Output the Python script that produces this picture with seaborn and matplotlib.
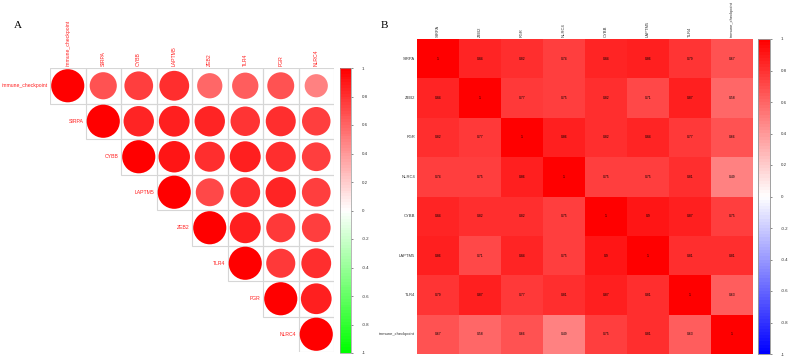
import numpy as np
import pandas as pd
import matplotlib
matplotlib.use("Agg")
import matplotlib.pyplot as plt
import seaborn as sns
from matplotlib.colors import LinearSegmentedColormap, Normalize
from matplotlib.cm import ScalarMappable
from matplotlib.patches import Rectangle

# ===================== data =====================
genes_b = ["SIRPA", "ZEB2", "FGR", "NLRC4", "CYBB", "LAPTM5", "TLR4", "immune_checkpoint"]
r_SIRPA = [1, 0.84, 0.82, 0.74, 0.84, 0.86, 0.79, 0.67]
r_ZEB2 = [0.84, 1, 0.77, 0.75, 0.82, 0.71, 0.87, 0.58]
r_FGR = [0.82, 0.77, 1, 0.86, 0.82, 0.84, 0.77, 0.66]
r_NLRC4 = [0.74, 0.75, 0.86, 1, 0.75, 0.75, 0.81, 0.49]
r_CYBB = [0.84, 0.82, 0.82, 0.75, 1, 0.9, 0.87, 0.75]
r_LAPTM5 = [0.86, 0.71, 0.84, 0.75, 0.9, 1, 0.81, 0.81]
r_TLR4 = [0.79, 0.87, 0.77, 0.81, 0.87, 0.81, 1, 0.63]
r_immune = [0.67, 0.58, 0.66, 0.49, 0.75, 0.81, 0.63, 1]
# panel A order (clustered)
genes_a = ["immune_checkpoint", "SIRPA", "CYBB", "LAPTM5", "ZEB2", "TLR4", "FGR", "NLRC4"]
cbar_ticks = [-1, -0.8, -0.6, -0.4, -0.2, 0, 0.2, 0.4, 0.6, 0.8, 1]

corr = pd.DataFrame([r_SIRPA, r_ZEB2, r_FGR, r_NLRC4, r_CYBB, r_LAPTM5, r_TLR4, r_immune],
                    index=genes_b, columns=genes_b)
corr_a = corr.loc[genes_a, genes_a]

W, H = 789, 357
fig = plt.figure(figsize=(W / 100, H / 100), dpi=100)
plt.rcParams["font.family"] = ["Liberation Sans", "DejaVu Sans"]


def px_axes(x0, y0, x1, y1):
    # pixel box (top-left origin) -> figure axes
    return fig.add_axes([x0 / W, 1 - y1 / H, (x1 - x0) / W, (y1 - y0) / H])


def tick_label(v):
    return "0" if v == 0 else f"{v:g}"


# ===================== A: corrplot circles =====================
cmap_a = LinearSegmentedColormap.from_list("gwr", ["#00FF00", "#FFFFFF", "#FF0000"], N=100)
axA = px_axes(50, 68, 334, 352)
n = len(genes_a)
rows = []
for i in range(n):
    for j in range(i, n):
        rows.append({"row": i, "col": j, "r": corr_a.iloc[i, j], "absr": abs(corr_a.iloc[i, j])})
        axA.add_patch(Rectangle((j - 0.5, i - 0.5), 1, 1, fill=False, ec="#d6d6d6", lw=0.8))
long_a = pd.DataFrame(rows)
sns.scatterplot(data=long_a, x="col", y="row", hue="r", size="absr",
                hue_norm=(-1, 1), palette=cmap_a, size_norm=(0, 1), sizes=(0, 570),
                linewidth=0, legend=False, ax=axA)
axA.set_xlim(-0.5, n - 0.5)
axA.set_ylim(n - 0.5, -0.5)
axA.axis("off")
lab_col = "#FF2020"
for i, g in enumerate(genes_a):
    axA.text(i - 0.56, i, g, ha="right", va="center", fontsize=3.7, color=lab_col)
    axA.text(i, -0.56, g, ha="center", va="bottom", rotation=90, fontsize=3.7, color=lab_col)

caxA = px_axes(340, 68, 351, 353)
cbA = fig.colorbar(ScalarMappable(Normalize(-1, 1), cmap_a), cax=caxA, ticks=cbar_ticks)
cbA.ax.set_yticklabels([tick_label(v) for v in cbar_ticks])
cbA.ax.tick_params(labelsize=3.2, length=1.5, width=0.4, pad=6, colors="#333333")
cbA.outline.set_edgecolor("#999999")
cbA.outline.set_linewidth(0.5)

# ===================== B: heatmap with numbers =====================
cmap_b = LinearSegmentedColormap.from_list("bwr2", ["#0000FF", "#FFFFFF", "#FF0000"], N=100)
axB = px_axes(417, 39, 753, 354)
caxB = px_axes(758, 39, 770, 354)
annot = corr.apply(lambda c: c.map(lambda v: f"{round(v, 2):g}"))
sns.heatmap(corr, cmap=cmap_b, vmin=-1, vmax=1, annot=annot.values, fmt="",
            annot_kws={"size": 2.4, "color": "black"}, cbar_ax=caxB,
            cbar_kws={"ticks": cbar_ticks}, ax=axB)
axB.xaxis.tick_top()
axB.set_xticklabels(genes_b, rotation=90, fontsize=3.0, color="#333333")
axB.set_yticklabels(genes_b, rotation=0, fontsize=3.0, color="#333333")
axB.tick_params(length=0, pad=1.5)
axB.set_xlabel("")
axB.set_ylabel("")
caxB.set_yticklabels([tick_label(v) for v in cbar_ticks])
caxB.tick_params(labelsize=3.2, length=1.5, width=0.4, pad=6, colors="#333333")
for s in caxB.spines.values():
    s.set_visible(True)
    s.set_edgecolor("#999999")
    s.set_linewidth(0.5)

# ===================== panel letters =====================
fig.text(18 / W, 1 - 25 / H, "A", fontsize=8, family="Liberation Serif", va="center", ha="center")
fig.text(384 / W, 1 - 25 / H, "B", fontsize=8, family="Liberation Serif", va="center", ha="center")

fig.savefig("out.png", dpi=100)
